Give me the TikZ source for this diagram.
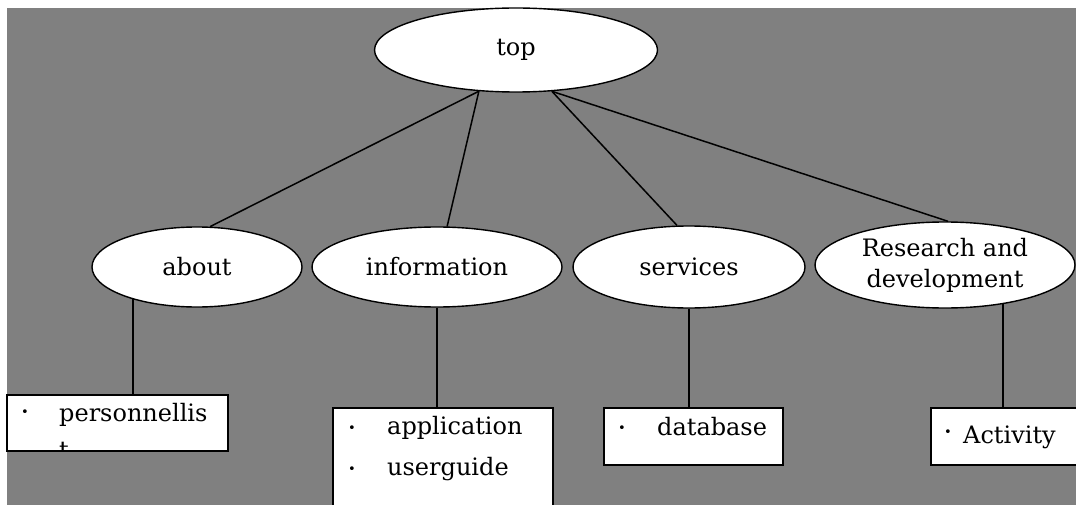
\documentclass[tikz,border=0pt]{standalone}
\usepackage{fontspec}
\setmainfont{DejaVu Serif}
\usetikzlibrary{shapes.geometric}
\pgfdeclarelayer{back}
\pgfdeclarelayer{wires}
\pgfsetlayers{back,wires,main}
\definecolor{canvas}{HTML}{808080}
\begin{document}
\begin{tikzpicture}[x=1pt,y=-1pt,
  every node/.style={font=\fontsize{24}{31}\selectfont},
  topic/.style={ellipse,draw=black,fill=white,line width=1.4pt,inner sep=0pt},
  listbox/.style={draw=black,fill=white,line width=1.5pt,inner sep=0pt,outer sep=0pt,anchor=north west},
  wire/.style={line width=1.5pt},
  entry/.style={anchor=base west,inner sep=0pt},
  dot/.style={inner sep=0pt,font=\fontsize{13}{13}\selectfont}]
\clip (0,0) rectangle (1076,505);
\begin{pgfonlayer}{back}
  \fill[white] (0,0) rectangle (1076,505);
  \fill[canvas] (7,8) rectangle (1076,505);
\end{pgfonlayer}

% topic ellipses
\node[topic,minimum width=283pt,minimum height=84pt] (top) at (516,50) {top};
\node[topic,minimum width=210pt,minimum height=80pt] (about) at (197,267) {about};
\node[topic,minimum width=250pt,minimum height=80pt] (info) at (437,267) {information};
\node[topic,minimum width=232pt,minimum height=82pt] (serv) at (689,267) {services};
\node[topic,minimum width=260pt,minimum height=86pt,align=center] (rd) at (945,265) {Research and\\development};

% list boxes
\node[listbox,minimum width=221pt,minimum height=56pt] (box1) at (7,395) {};
\node[listbox,minimum width=220pt,minimum height=110pt] (box2) at (333,408) {};
\node[listbox,minimum width=179pt,minimum height=57pt] (box3) at (604,408) {};
\node[listbox,minimum width=170pt,minimum height=57pt] (box4) at (931,408) {};

% connectors
\coordinate (jA) at ([xshift=15.5pt]box1.north);
\coordinate (jD) at (1003,408);
\begin{pgfonlayer}{wires}
  \draw[wire] (top.228) -- (about.72);
  \draw[wire] (top.228) -- (info.76);
  \draw[wire] (top.311) -- (serv.106);
  \draw[wire] (top.311) -- (rd.86);
  \draw[wire] (about.center -| jA) -- (jA);
  \draw[wire] (info) -- (info |- box2.north);
  \draw[wire] (serv) -- (serv |- box3.north);
  \draw[wire] (rd.center -| jD) -- (jD);
\end{pgfonlayer}

% list entries
\node[dot] (b1) at (25,413) {•};
\node[entry] (e1) at (59,421) {personnellis};
\begin{scope}
  \clip ([shift={(0.8,0.8)}]box1.north west) rectangle ([shift={(-0.8,-0.8)}]box1.south east);
  \node[entry] (e1b) at (59,458) {t};
\end{scope}
\node[dot] (b2) at (352,429) {•};
\node[entry] (e2) at (387,434) {application};
\node[dot] (b3) at (352,470) {•};
\node[entry] (e3) at (387,475) {userguide};
\node[dot] (b4) at (622,429) {•};
\node[entry] (e4) at (657,435) {database};
\node[dot] (b5) at (948,433) {•};
\node[entry] (e5) at (963,443) {Activity};
\end{tikzpicture}
\end{document}
